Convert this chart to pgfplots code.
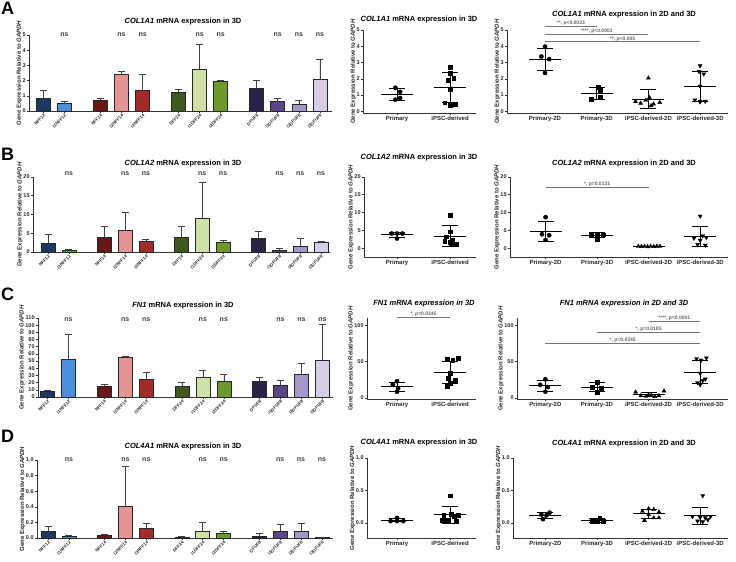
\documentclass[border=0pt]{standalone}
\usepackage{fontspec}
\setmainfont{Liberation Sans}
\usepackage{pgfplots}
\pgfplotsset{compat=1.18}

% bar colours, one per cell line
\definecolor{cNFF12}{HTML}{1B3862}
\definecolor{cI1NFF12}{HTML}{4C8FDC}
\definecolor{cNFF14}{HTML}{691818}
\definecolor{cI2NFF14}{HTML}{E39494}
\definecolor{cI3NFF14}{HTML}{A52A2A}
\definecolor{cDFF24}{HTML}{3D5A1C}
\definecolor{cI1DFF24}{HTML}{CCE2A6}
\definecolor{cI2DFF24}{HTML}{6C982C}
\definecolor{cDFUF8}{HTML}{2C2146}
\definecolor{cI1DFUF8}{HTML}{5B4584}
\definecolor{cI2DFUF8}{HTML}{A597C8}
\definecolor{cI3DFUF8}{HTML}{D7CDE7}

\newcommand{\fs}[1]{\fontsize{#1}{#1}\selectfont}

\pgfplotsset{
  gp/.style={scale only axis, clip=false, anchor=south west,
    axis x line*=bottom, axis y line*=left,
    axis line style={-, black!80, line width=0.7pt},
    tick style={black!80, line width=0.6pt},
    tick align=outside, major tick length=2.2pt,
    tick label style={font=\bfseries\fs{5.5}, text=black!85, inner sep=1pt},
    ylabel={Gene Expression Relative to \textit{GAPDH}},
    ylabel style={font=\bfseries\fs{6}, text=black!85},
    ylabel shift=-4pt,
  },
  barax/.style={gp,
    xtick={0,1,2.7,3.7,4.7,6.4,7.4,8.4,10.1,11.1,12.1,13.1},
    xticklabels={NFF12,I1NFF12,NFF14,I2NFF14,I3NFF14,DFF24,I1DFF24,I2DFF24,DFUF8,I1DFUF8,I2DFUF8,I3DFUF8},
    xticklabel style={rotate=45, anchor=north east, font=\bfseries\fs{4.4}, inner sep=0.3pt},
  },
  midax/.style={gp, xtick={1,2}, xticklabels={Primary,iPSC-derived}, xmax=2.49,
    xticklabel style={font=\bfseries\fs{6}}},
  rax/.style={gp, xtick={1,2,3,4}, xmax=4.54,
    xticklabels={Primary-2D,Primary-3D,iPSC-derived-2D,iPSC-derived-3D},
    xticklabel style={font=\bfseries\fs{6}}},
}

% bar with upper SD
\newcommand{\gbar}[4]{\addplot[ybar, bar shift=0pt, bar width=14pt, fill=#1, draw=black!85, line width=0.6pt,
  error bars/.cd, y dir=plus, y explicit, error bar style={black!75, line width=0.6pt},
  error mark options={rotate=90, black!75, line width=0.6pt, mark size=3.5pt}]
  coordinates {(#2,#3) +- (0,#4)};}
% points
\newcommand{\gpts}[2]{\addplot[only marks, black, mark size=2.1pt, #1] coordinates {#2};}
% mean and SD
\newcommand{\gmsd}[3]{\addplot[only marks, black, mark=-, mark size=16pt, mark options={line width=0.9pt},
  error bars/.cd, y dir=both, y explicit, error bar style={black, line width=0.8pt},
  error mark options={rotate=90, black, line width=0.8pt, mark size=8pt}]
  coordinates {(#1,#2) +- (0,#3)};}
% significance line
\newcommand{\sig}[4]{\addplot[black!55, line width=0.8pt] coordinates {(#1,#3) (#2,#3)};
  \node[above, inner sep=0.6pt, font=\bfseries\fs{5}, text=black!60] at (axis cs:{(#1+#2)/2},#3) {#4};}
\newcommand{\ns}[2]{\node[font=\bfseries\fs{7}, text=black!75] at (axis cs:#1,#2) {ns};}
\newcommand{\nsrow}[1]{\ns{1}{#1}\ns{3.7}{#1}\ns{4.7}{#1}\ns{7.4}{#1}\ns{8.4}{#1}\ns{11.1}{#1}\ns{12.1}{#1}\ns{13.1}{#1}}

\tikzset{circ/.style={mark=*}, sq/.style={mark=square*, mark size=1.9pt}, tri/.style={mark=triangle*, mark size=2.3pt},
  itri/.style={mark=triangle*, mark size=2.3pt, mark options={rotate=180}}}

\begin{document}
\begin{tikzpicture}
\path[use as bounding box] (0,0) rectangle (736pt,-562pt);

% ---------- letters and titles
\begin{scope}[every node/.style={anchor=north west, inner sep=0pt, font=\bfseries\fs{18}}]
\node at (1pt,-2pt) {A};
\node at (1pt,-148pt) {B};
\node at (1pt,-288pt) {C};
\node at (1pt,-430pt) {D};
\end{scope}
\begin{scope}[every node/.style={font=\bfseries\fs{7.5}}]
\node at (183pt,-22pt) {\textit{COL1A1} mRNA expression in 3D};
\node at (419pt,-20pt) {\textit{COL1A1} mRNA expression in 3D};
\node at (624pt,-15pt) {\textit{COL1A1} mRNA expression in 2D and 3D};
\node at (183pt,-164pt) {\textit{COL1A2} mRNA expression in 3D};
\node at (419pt,-158pt) {\textit{COL1A2} mRNA expression in 3D};
\node at (624pt,-164pt) {\textit{COL1A2} mRNA expression in 2D and 3D};
\node at (183pt,-306pt) {\textit{FN1} mRNA expression in 3D};
\node at (424pt,-304pt) {\textit{FN1 mRNA expression in 3D}};
\node at (624pt,-304pt) {\textit{FN1 mRNA expression in 2D and 3D}};
\node at (183pt,-447pt) {\textit{COL4A1} mRNA expression in 3D};
\node at (419pt,-443pt) {\textit{COL4A1} mRNA expression in 3D};
\node at (624pt,-444pt) {\textit{COL4A1} mRNA expression in 2D and 3D};
\end{scope}

% ================= row A
\begin{axis}[barax, at={(29pt,-111pt)}, width=303pt, height=76pt,
  xmin=-0.68, xmax=13.67, ymin=0, ymax=5, ytick={0,1,2,3,4,5}, yticklabels={0,1,2,3,4,5}]
\gbar{cNFF12}{0}{0.86}{0.48}
\gbar{cI1NFF12}{1}{0.49}{0.14}
\gbar{cNFF14}{2.7}{0.71}{0.11}
\gbar{cI2NFF14}{3.7}{2.39}{0.22}
\gbar{cI3NFF14}{4.7}{1.35}{1.04}
\gbar{cDFF24}{6.4}{1.22}{0.18}
\gbar{cI1DFF24}{7.4}{2.77}{1.63}
\gbar{cI2DFF24}{8.4}{1.93}{0.12}
\gbar{cDFUF8}{10.1}{1.51}{0.54}
\gbar{cI1DFUF8}{11.1}{0.61}{0.22}
\gbar{cI2DFUF8}{12.1}{0.43}{0.28}
\gbar{cI3DFUF8}{13.1}{2.07}{1.33}
\nsrow{5}
\end{axis}

\begin{axis}[midax, at={(363pt,-113pt)}, width=113pt, height=83pt,
  xmin=0.36, ymin=-0.1, ymax=5, ytick={0,1,2,3,4,5}, yticklabels={0,1,2,3,4,5}]
\gpts{circ}{(0.97,1.45) (1.06,1.2) (1.06,0.82) (0.97,0.72)}
\gpts{sq}{(2.0,2.71) (2.0,2.35) (1.96,1.91) (2.07,2.06) (2.0,1.34) (1.9,0.53) (2.0,0.37) (2.1,0.43)}
\gmsd{1}{1.05}{0.37}
\gmsd{2}{1.48}{0.93}
\end{axis}

\begin{axis}[rax, at={(507pt,-113pt)}, width=221pt, height=83pt,
  xmin=0.265, ymin=-0.1, ymax=5, ytick={0,1,2,3,4,5}, yticklabels={0,1,2,3,4,5}]
\gpts{circ}{(1.0,3.98) (0.93,3.37) (1.08,3.21) (1.0,2.36)}
\gpts{sq}{(2.03,1.5) (2.06,1.28) (1.9,0.75) (2.06,0.85)}
\gpts{tri}{(3.0,2.05) (2.75,0.6) (2.85,0.5) (2.95,0.68) (3.02,0.85) (3.1,0.45) (3.22,0.55) (3.05,0.35)}
\gpts{itri}{(4.0,2.8) (3.98,2.45) (4.07,2.3) (4.0,1.55) (3.9,0.7) (4.0,0.62) (4.1,0.62) (4.0,0.58)}
\gmsd{1}{3.22}{0.68}
\gmsd{2}{1.1}{0.36}
\gmsd{3}{0.75}{0.57}
\gmsd{4}{1.52}{0.92}
\sig{1}{2}{5.24}{**, p<0.0023}
\sig{1}{3}{4.76}{****, p<0.0001}
\sig{1}{4}{4.27}{**, p<0.005}
\end{axis}

% ================= row B
\begin{axis}[barax, at={(33pt,-252pt)}, width=297pt, height=75pt,
  xmin=-0.72, xmax=13.53, ymin=0, ymax=20, ytick={0,5,10,15,20}, yticklabels={0,5,10,15,20}]
\gbar{cNFF12}{0}{2.4}{2.2}
\gbar{cI1NFF12}{1}{0.35}{0.25}
\gbar{cNFF14}{2.7}{4.0}{2.8}
\gbar{cI2NFF14}{3.7}{5.7}{4.8}
\gbar{cI3NFF14}{4.7}{2.8}{0.7}
\gbar{cDFF24}{6.4}{4.0}{2.8}
\gbar{cI1DFF24}{7.4}{9.0}{9.5}
\gbar{cI2DFF24}{8.4}{2.55}{0.65}
\gbar{cDFUF8}{10.1}{3.7}{1.9}
\gbar{cI1DFUF8}{11.1}{0.5}{0.55}
\gbar{cI2DFUF8}{12.1}{1.5}{2.2}
\gbar{cI3DFUF8}{13.1}{2.55}{0.25}
\nsrow{21}
\end{axis}

\begin{axis}[midax, at={(364pt,-257pt)}, width=112pt, height=80pt,
  xmin=0.377, ymin=-2.5, ymax=20, ytick={0,5,10,15,20}, yticklabels={0,5,10,15,20}]
\gpts{circ}{(0.9,4.1) (1.0,4.1) (1.1,4.1) (1.0,2.7)}
\gpts{sq}{(2.0,9.3) (2.0,4.6) (1.93,3.2) (2.05,2.3) (1.9,2.0) (2.02,1.0) (2.12,1.0) (2.0,1.6)}
\gmsd{1}{3.75}{0.7}
\gmsd{2}{3.35}{2.95}
\end{axis}

\begin{axis}[rax, at={(510pt,-257pt)}, width=218pt, height=80pt,
  xmin=0.31, ymin=-2.5, ymax=20, ytick={0,5,10,15,20}, yticklabels={0,5,10,15,20}]
\gpts{circ}{(1.0,8.7) (0.93,3.9) (1.07,3.6) (1.0,2.3)}
\gpts{sq}{(1.88,3.8) (2.0,3.8) (2.12,3.8) (2.0,2.6)}
\gpts{tri}{(2.8,0.5) (2.86,0.45) (2.92,0.5) (2.98,0.4) (3.04,0.5) (3.1,0.45) (3.16,0.55) (3.22,0.5)}
\gpts{itri}{(4.0,9.0) (4.05,3.5) (3.88,2.8) (4.0,2.2) (4.12,3.0) (3.95,1.0) (4.1,0.8)}
\gmsd{1}{4.7}{2.7}
\gmsd{2}{3.6}{0.7}
\gmsd{3}{0.5}{0.12}
\gmsd{4}{3.25}{2.9}
\sig{1}{3}{17}{*, p=0.0131}
\end{axis}

% ================= row C
\begin{axis}[barax, at={(38pt,-397pt)}, width=295pt, height=79pt,
  xmin=-0.45, xmax=13.6, ymin=0, ymax=110,
  ytick={0,10,20,30,40,50,60,70,80,90,100,110}, yticklabels={0,10,20,30,40,50,60,70,80,90,100,110}]
\gbar{cNFF12}{0}{8}{1.4}
\gbar{cI1NFF12}{1}{52.4}{35.1}
\gbar{cNFF14}{2.7}{15}{2.8}
\gbar{cI2NFF14}{3.7}{54.8}{2.2}
\gbar{cI3NFF14}{4.7}{24.3}{9.7}
\gbar{cDFF24}{6.4}{15}{5}
\gbar{cI1DFF24}{7.4}{27}{9.5}
\gbar{cI2DFF24}{8.4}{22}{9}
\gbar{cDFUF8}{10.1}{22.5}{5.5}
\gbar{cI1DFUF8}{11.1}{16}{7.4}
\gbar{cI2DFUF8}{12.1}{32}{14.8}
\gbar{cI3DFUF8}{13.1}{51.5}{50.1}
\nsrow{108}
\end{axis}

\begin{axis}[midax, at={(367pt,-399pt)}, width=109pt, height=81pt,
  xmin=0.434, ymin=-1.5, ymax=110, ytick={0,50,100}, yticklabels={0,50,100}]
\gpts{circ}{(1.0,23) (0.92,18.5) (1.02,13) (1.0,8.5)}
\gpts{sq}{(1.95,53.4) (2.05,52) (2.15,55) (2.0,34) (1.97,27) (2.1,24) (2.0,20) (1.95,16)}
\gmsd{1}{15.3}{6.5}
\gmsd{2}{35.2}{15.6}
\sig{1}{2}{111}{*, p=0.0345}
\end{axis}

\begin{axis}[rax, at={(517pt,-399pt)}, width=211pt, height=81pt,
  xmin=0.45, ymin=-1.5, ymax=110, ytick={0,50,100}, yticklabels={0,50,100}]
\gpts{circ}{(1.0,25.6) (0.9,18) (1.05,15) (1.0,8.6)}
\gpts{sq}{(2.0,22) (1.9,15) (2.08,13.7) (2.0,8.4)}
\gpts{tri}{(2.75,8) (2.85,3) (2.95,2.5) (3.05,3.5) (3.12,2) (3.2,3) (3.3,9.5) (3.0,4)}
\gpts{itri}{(3.93,54) (4.12,55) (4.02,52) (4.0,34) (4.1,26) (3.95,21) (4.0,18) (4.05,24)}
\gmsd{1}{17}{7.5}
\gmsd{2}{15}{6.5}
\gmsd{3}{5}{2.8}
\gmsd{4}{35.5}{15.5}
\sig{3}{4}{105}{****, p<0.0001}
\sig{2}{4}{90}{*, p=0.0185}
\sig{1}{4}{75}{*, p=0.0345}
\end{axis}

% ================= row D
\begin{axis}[barax, at={(37pt,-538pt)}, width=296pt, height=78pt,
  xmin=-0.53, xmax=13.63, ymin=0, ymax=1,
  ytick={0,0.2,0.4,0.6,0.8,1}, yticklabels={0.0,0.2,0.4,0.6,0.8,1.0}]
\gbar{cNFF12}{0}{0.09}{0.065}
\gbar{cI1NFF12}{1}{0.025}{0.008}
\gbar{cNFF14}{2.7}{0.03}{0.02}
\gbar{cI2NFF14}{3.7}{0.41}{0.51}
\gbar{cI3NFF14}{4.7}{0.12}{0.07}
\gbar{cDFF24}{6.4}{0.01}{0.008}
\gbar{cI1DFF24}{7.4}{0.085}{0.11}
\gbar{cI2DFF24}{8.4}{0.055}{0.035}
\gbar{cDFUF8}{10.1}{0.028}{0.03}
\gbar{cI1DFUF8}{11.1}{0.09}{0.085}
\gbar{cI2DFUF8}{12.1}{0.09}{0.1}
\gbar{cI3DFUF8}{13.1}{0.006}{0.004}
\nsrow{1}
\end{axis}

\begin{axis}[midax, at={(367pt,-538pt)}, width=109pt, height=80pt,
  xmin=0.434, ymin=-0.23, ymax=1, ytick={0,0.5,1}, yticklabels={0.0,0.5,1.0}]
\gpts{circ}{(1.0,0.08) (0.88,0.03) (1.0,0.03) (1.12,0.03)}
\gpts{sq}{(2.0,0.42) (1.88,0.12) (2.02,0.13) (2.15,0.12) (1.95,0.04) (2.12,0.03) (1.85,0.04) (2.08,0.1)}
\gmsd{1}{0.045}{0.027}
\gmsd{2}{0.125}{0.13}
\end{axis}

\begin{axis}[rax, at={(513pt,-538pt)}, width=215pt, height=80pt,
  xmin=0.37, ymin=-0.23, ymax=1, ytick={0,0.5,1}, yticklabels={0.0,0.5,1.0}]
\gpts{circ}{(0.92,0.13) (1.08,0.16) (1.02,0.12) (0.95,0.06)}
\gpts{sq}{(2.05,0.07) (1.9,0.03) (2.0,0.03) (2.12,0.03)}
\gpts{tri}{(3.0,0.22) (3.1,0.21) (2.88,0.18) (3.2,0.17) (3.0,0.13) (3.1,0.08) (3.2,0.08) (2.92,0.04)}
\gpts{itri}{(4.05,0.42) (3.85,0.1) (4.0,0.09) (4.1,0.08) (4.2,0.1) (3.95,0.03) (4.05,0.02) (4.15,0.05)}
\gmsd{1}{0.115}{0.05}
\gmsd{2}{0.04}{0.025}
\gmsd{3}{0.14}{0.07}
\gmsd{4}{0.11}{0.125}
\end{axis}

\end{tikzpicture}
\end{document}
